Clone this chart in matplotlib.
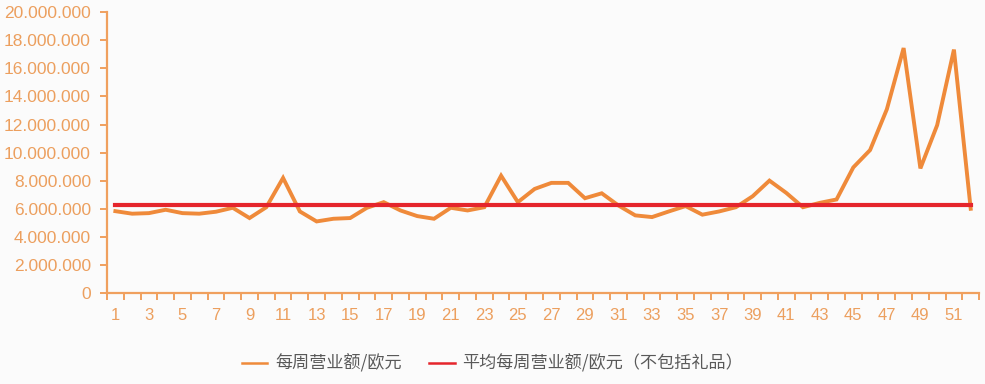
import matplotlib
matplotlib.use("Agg")
import matplotlib.pyplot as plt
from matplotlib.ticker import FuncFormatter, FixedLocator

#### data ####

weeks = list(range(1, 53))

# weekly revenue in euro
weekly_revenue = [
    5.85e6, 5.67e6, 5.71e6, 5.95e6, 5.71e6, 5.67e6, 5.81e6, 6.09e6, 5.36e6, 6.13e6,
    8.21e6, 5.83e6, 5.12e6, 5.31e6, 5.36e6, 6.09e6, 6.49e6, 5.90e6, 5.50e6, 5.31e6,
    6.09e6, 5.90e6, 6.13e6, 8.37e6, 6.49e6, 7.43e6, 7.86e6, 7.86e6, 6.77e6, 7.12e6,
    6.25e6, 5.55e6, 5.43e6, 5.83e6, 6.21e6, 5.60e6, 5.83e6, 6.13e6, 6.91e6, 8.02e6,
    7.15e6, 6.13e6, 6.44e6, 6.68e6, 8.96e6, 10.19e6, 13.09e6, 17.44e6, 8.89e6, 11.96e6,
    17.33e6, 6.02e6,
]

# average weekly revenue without gifts
avg_revenue = 6.3e6

y_ticks = list(range(0, 20000001, 2000000))
x_labels = list(range(1, 53, 2))

legend_labels = ["每周营业额/欧元", "平均每周营业额/欧元（不包括礼品）"]

#### colours ####

orange = "#EF8A3A"
red = "#E5252C"
axis_col = "#F0A05E"
label_col = "#EC9F5E"
text_col = "#595959"


def thousands(v, pos):
    return f"{int(v):,}".replace(",", ".")


fig = plt.figure(figsize=(9.85, 3.84), dpi=100, facecolor="#FBFBFB")
ax = fig.add_axes([0.1086, 0.2357, 0.8854, 0.733])
ax.set_facecolor("#FBFBFB")

ax.plot(weeks, weekly_revenue, color=orange, lw=2.8, solid_joinstyle="miter",
        label=legend_labels[0], zorder=3)
ax.plot(weeks, [avg_revenue] * len(weeks), color=red, lw=3.0,
        label=legend_labels[1], zorder=4)

ax.set_xlim(0.5, 52.5)
ax.set_ylim(0, 20000000)

# spines
for s in ["top", "right"]:
    ax.spines[s].set_visible(False)
for s in ["left", "bottom"]:
    ax.spines[s].set_color(axis_col)
    ax.spines[s].set_linewidth(1.6)

# y axis
ax.set_yticks(y_ticks)
ax.yaxis.set_major_formatter(FuncFormatter(thousands))
ax.tick_params(axis="y", direction="out", length=5, width=1.4, color=axis_col,
               labelcolor=label_col, labelsize=12.5, pad=6.5)

# x axis: tick marks between weeks, labels on odd weeks
ax.xaxis.set_major_locator(FixedLocator([w + 0.5 for w in range(0, 53)]))
ax.xaxis.set_major_formatter(FuncFormatter(lambda v, p: ""))
ax.xaxis.set_minor_locator(FixedLocator(x_labels))
ax.xaxis.set_minor_formatter(FuncFormatter(lambda v, p: str(int(round(v)))))
ax.tick_params(axis="x", which="major", direction="out", length=5, width=1.4,
               color=axis_col)
ax.tick_params(axis="x", which="minor", length=0, labelcolor=label_col,
               labelsize=12, pad=10.5)

for lab in ax.get_xticklabels(minor=True) + ax.get_yticklabels():
    lab.set_family(["Liberation Sans", "DejaVu Sans"])

leg = fig.legend(loc="center", bbox_to_anchor=(0.5, 0.053), ncol=2, frameon=False,
                 handlelength=1.5, handletextpad=0.45, columnspacing=1.6,
                 prop={"family": ["Noto Sans CJK SC", "DejaVu Sans"], "size": 12.3})
for t in leg.get_texts():
    t.set_color(text_col)
for h in leg.legend_handles:
    h.set_linewidth(1.8)

fig.savefig("out.png", dpi=100, facecolor=fig.get_facecolor())
